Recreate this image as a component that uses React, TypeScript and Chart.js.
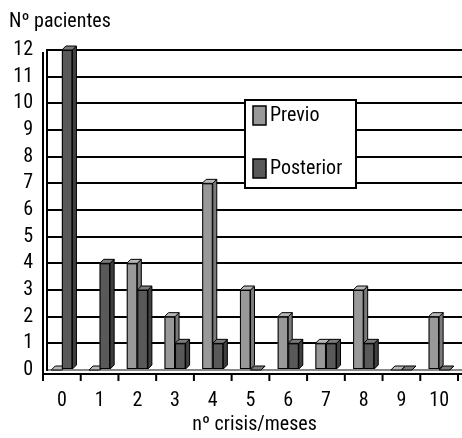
import React, { useEffect, useRef } from 'react';
import { Chart, registerables } from 'chart.js';

Chart.register(...registerables);

const categories = ['0', '1', '2', '3', '4', '5', '6', '7', '8', '9', '10'];
const previo = [0, 0, 4, 2, 7, 3, 2, 1, 3, 0, 2];
const posterior = [12, 4, 3, 1, 1, 0, 1, 1, 1, 0, 0];
const seriesNames = ['Previo', 'Posterior'];
const yAxisTitle = 'Nº pacientes';
const xAxisTitle = 'nº crisis/meses';

const FONT = "'Roboto Condensed', 'Liberation Sans Narrow', 'Liberation Sans', Arial, sans-serif";
const FS = 20;
const FRONT = ['#999999', '#595959'];
const SIDE = ['#7a7a7a', '#3f3f3f'];
const TOP = ['#b8b8b8', '#7a7a7a'];
const DEPTH = 4;

// Draws every bar (front, side, top) on the front plane, in series order,
// so that the Posterior bar covers the Previo bar's side face (3D columns).
const bar3d = {
  id: 'bar3d',
  afterDatasetsDraw(chart: any) {
    const ctx = chart.ctx;
    const n = chart.data.labels.length;
    for (let c = 0; c < n; c++) {
      for (let i = 0; i < chart.data.datasets.length; i++) {
        const el = chart.getDatasetMeta(i).data[c];
        if (!el) continue;
        const p = el.getProps(['x', 'y', 'base', 'width'], true);
        const x = p.x - DEPTH;
        const y = p.y;
        const base = p.base;
        const width = p.width;
        const l = x - width / 2;
        const r = x + width / 2;
        ctx.save();
        ctx.lineWidth = 1;
        ctx.strokeStyle = '#000';
        if (base - y > 0.5) {
          ctx.fillStyle = FRONT[i];
          ctx.fillRect(l, y, width, base - y);
          ctx.strokeRect(l + 0.5, y + 0.5, width - 1, base - y - 1);
        }
        ctx.beginPath();
        ctx.moveTo(r, y);
        ctx.lineTo(r + DEPTH, y - DEPTH);
        ctx.lineTo(r + DEPTH, base - DEPTH);
        ctx.lineTo(r, base);
        ctx.closePath();
        ctx.fillStyle = SIDE[i];
        ctx.fill();
        ctx.stroke();
        ctx.beginPath();
        ctx.moveTo(l, y);
        ctx.lineTo(l + DEPTH, y - DEPTH);
        ctx.lineTo(r + DEPTH, y - DEPTH);
        ctx.lineTo(r, y);
        ctx.closePath();
        ctx.fillStyle = TOP[i];
        ctx.fill();
        ctx.stroke();
        ctx.restore();
      }
    }
  },
};

const frame = {
  id: 'frame',
  beforeDatasetsDraw(chart: any) {
    const { ctx, chartArea } = chart;
    const xs = chart.scales.x;
    const catW = (chartArea.right - chartArea.left) / categories.length;
    ctx.save();
    ctx.strokeStyle = '#000';
    ctx.lineWidth = 2;
    ctx.beginPath();
    ctx.moveTo(chartArea.left - DEPTH, chartArea.top + 2);
    ctx.lineTo(chartArea.left - DEPTH, chartArea.bottom + DEPTH);
    ctx.stroke();
    ctx.beginPath();
    ctx.moveTo(chartArea.left - DEPTH, chartArea.bottom + DEPTH);
    ctx.lineTo(chartArea.right, chartArea.bottom + DEPTH);
    ctx.stroke();
    for (let k = 0; k <= categories.length; k++) {
      const bx = xs.getPixelForValue(0) - catW / 2 + k * catW - DEPTH;
      ctx.beginPath();
      ctx.moveTo(bx, chartArea.bottom + DEPTH);
      ctx.lineTo(bx, chartArea.bottom + DEPTH + 7);
      ctx.stroke();
    }
    ctx.restore();
  },
  afterDraw(chart: any) {
    const ctx = chart.ctx;
    ctx.save();
    ctx.fillStyle = '#000';
    ctx.font = `${FS}px ${FONT}`;
    ctx.textAlign = 'left';
    ctx.textBaseline = 'middle';
    ctx.fillText(yAxisTitle, 9, 22);
    ctx.fillStyle = '#fff';
    ctx.fillRect(245, 100, 111, 88);
    ctx.strokeStyle = '#000';
    ctx.lineWidth = 2;
    ctx.strokeRect(245, 100, 111, 88);
    const ys = [115, 168];
    seriesNames.forEach((name, i) => {
      ctx.fillStyle = FRONT[i];
      ctx.fillRect(253, ys[i] - 9, 13, 19);
      ctx.lineWidth = 1.5;
      ctx.strokeRect(253, ys[i] - 9, 13, 19);
      ctx.fillStyle = '#000';
      ctx.fillText(name, 270, ys[i] + 1);
    });
    ctx.restore();
  },
};

export default function App() {
  const ref = useRef<HTMLCanvasElement>(null);
  useEffect(() => {
    document.body.style.margin = '0';
    const canvas = ref.current!;
    const chart = new Chart(canvas, {
      type: 'bar',
      data: {
        labels: categories,
        datasets: [
          {
            label: seriesNames[0],
            data: previo,
            backgroundColor: 'rgba(0,0,0,0)',
            borderWidth: 0,
            categoryPercentage: 0.56,
            barPercentage: 1,
          },
          {
            label: seriesNames[1],
            data: posterior,
            backgroundColor: 'rgba(0,0,0,0)',
            borderWidth: 0,
            categoryPercentage: 0.56,
            barPercentage: 1,
          },
        ],
      },
      options: {
        animation: false,
        responsive: false,
        layout: { padding: { top: 50, left: 0, right: 0, bottom: 0 } },
        plugins: { legend: { display: false }, tooltip: { enabled: false }, title: { display: false } },
        scales: {
          x: {
            grid: { display: false, drawTicks: false },
            border: { display: false },
            ticks: {
              color: '#000',
              font: { family: FONT, size: FS },
              padding: 19,
              labelOffset: -DEPTH,
              maxRotation: 0,
              autoSkip: false,
            },
            title: {
              display: true,
              text: xAxisTitle,
              color: '#000',
              font: { family: FONT, size: FS },
              padding: { top: 0, bottom: 1 },
            },
            afterFit: (axis: any) => {
              axis.height = 68;
              axis.paddingLeft = 0;
              axis.paddingRight = 0;
            },
          },
          y: {
            min: 0,
            max: 12,
            ticks: { stepSize: 1, autoSkip: false, color: '#000', font: { family: FONT, size: FS }, padding: 14 },
            grid: {
              drawTicks: false,
              color: (c: any) => (c.tick && c.tick.value === 0 ? '#888' : '#000'),
              lineWidth: 2,
            },
            border: { display: true, color: '#000', width: 2 },
            afterFit: (axis: any) => {
              axis.width = 47;
              axis.paddingTop = 0;
              axis.paddingBottom = 0;
            },
          },
        },
      },
      plugins: [frame, bar3d],
    });
    return () => chart.destroy();
  }, []);
  return <canvas ref={ref} width={462} height={438} style={{ display: 'block', width: 462, height: 438 }} />;
}
